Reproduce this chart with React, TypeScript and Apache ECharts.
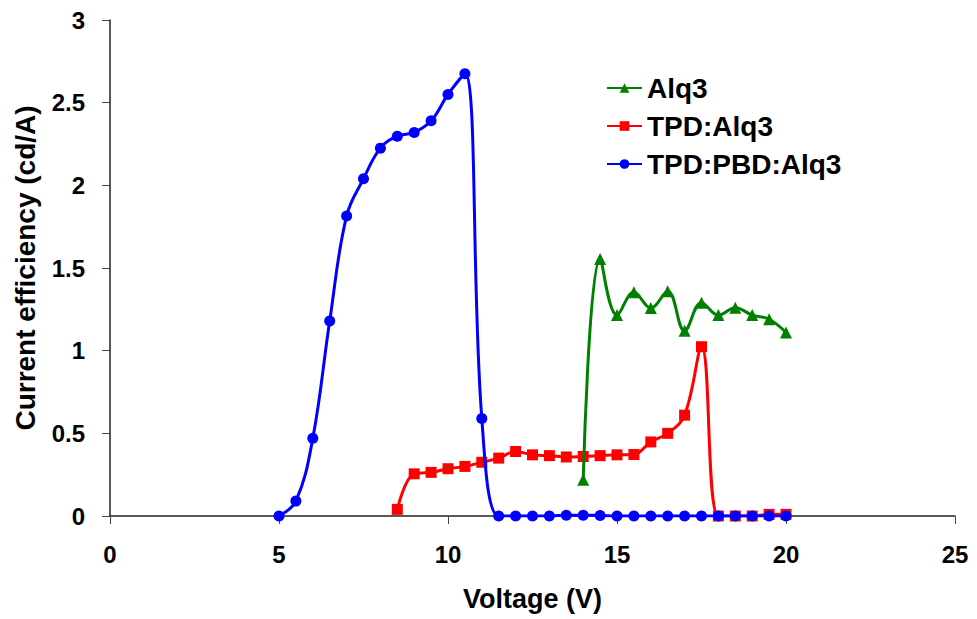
import React, { useEffect, useRef } from "react";
import * as echarts from "echarts";

const alq3V = [14, 14.5, 15, 15.5, 16, 16.5, 17, 17.5, 18, 18.5, 19, 19.5, 20];
const alq3E = [0.22, 1.555, 1.215, 1.353, 1.258, 1.36, 1.12, 1.29, 1.215, 1.26, 1.215, 1.19, 1.11];

const tpdV = [8.5, 9, 9.5, 10, 10.5, 11, 11.5, 12, 12.5, 13, 13.5, 14, 14.5, 15, 15.5, 16, 16.5, 17, 17.5, 18, 18.5, 19, 19.5, 20];
const tpdE = [0.04, 0.255, 0.264, 0.286, 0.3, 0.325, 0.35, 0.39, 0.37, 0.365, 0.357, 0.36, 0.365, 0.37, 0.372, 0.448, 0.5, 0.61, 1.024, 0.0, 0.0, 0.0, 0.01, 0.01];

const pbdV = [5, 5.5, 6, 6.5, 7, 7.5, 8, 8.5, 9, 9.5, 10, 10.5, 11, 11.5, 12, 12.5, 13, 13.5, 14, 14.5, 15, 15.5, 16, 16.5, 17, 17.5, 18, 18.5, 19, 19.5, 20];
const pbdE = [0.0, 0.09, 0.47, 1.18, 1.815, 2.04, 2.225, 2.297, 2.32, 2.39, 2.55, 2.675, 0.59, 0.0, 0.0, 0.0, 0.0, 0.005, 0.005, 0.003, 0.0, 0.0, 0.0, 0.0, 0.0, 0.0, 0.0, 0.0, 0.0, 0.0, 0.0];

const seriesNames = ["Alq3", "TPD:Alq3", "TPD:PBD:Alq3"];
const xTicks = [0, 5, 10, 15, 20, 25];
const yTicks = [0, 0.5, 1, 1.5, 2, 2.5, 3];

const FONT = "'Liberation Sans', Arial, sans-serif";

function zip(xs: number[], ys: number[]) {
  return xs.map((x, i) => [x, ys[i]]);
}

export default function App() {
  const ref = useRef<HTMLDivElement>(null);
  useEffect(() => {
    if (!ref.current) return;
    const chart = echarts.init(ref.current, null, { renderer: "svg" });
    const axisLine = { show: true, lineStyle: { color: "#222", width: 1.5 } };
    const tick = { show: true, inside: false, length: 8, lineStyle: { color: "#444", width: 1 } };
    const label = { fontFamily: FONT, fontWeight: "bold", fontSize: 24, color: "#000" };
    chart.setOption({
      animation: false,
      backgroundColor: "#fff",
      grid: { left: 110, right: 22, top: 20, bottom: 103 },
      legend: {
        orient: "vertical",
        left: 601,
        top: 69,
        itemGap: 10,
        itemWidth: 35,
        itemHeight: 12,
        data: seriesNames,
        textStyle: { fontFamily: FONT, fontWeight: "bold", fontSize: 28, color: "#000", lineHeight: 28 },
      },
      xAxis: {
        type: "value",
        min: xTicks[0],
        max: xTicks[xTicks.length - 1],
        interval: 5,
        name: "Voltage (V)",
        nameLocation: "middle",
        nameGap: 69,
        nameTextStyle: { fontFamily: FONT, fontWeight: "bold", fontSize: 27, color: "#000" },
        axisLine,
        axisTick: tick,
        axisLabel: { ...label, margin: 26 },
        splitLine: { show: false },
      },
      yAxis: {
        type: "value",
        min: yTicks[0],
        max: yTicks[yTicks.length - 1],
        interval: 0.5,
        name: "Current efficiency (cd/A)",
        nameLocation: "middle",
        nameGap: 71,
        nameTextStyle: { fontFamily: FONT, fontWeight: "bold", fontSize: 28, color: "#000" },
        axisLine,
        axisTick: tick,
        axisLabel: { ...label, margin: 25 },
        splitLine: { show: false },
      },
      series: [
        {
          name: seriesNames[1],
          type: "line",
          data: zip(tpdV, tpdE),
          smooth: 0.4,
          symbol: "rect",
          symbolSize: 11,
          lineStyle: { color: "#ff0000", width: 3 },
          itemStyle: { color: "#ff0000" },
          z: 2,
        },
        {
          name: seriesNames[0],
          type: "line",
          data: zip(alq3V, alq3E),
          smooth: 0.4,
          symbol: "triangle",
          symbolSize: 12,
          lineStyle: { color: "#008000", width: 3 },
          itemStyle: { color: "#008000" },
          z: 3,
        },
        {
          name: seriesNames[2],
          type: "line",
          data: zip(pbdV, pbdE),
          smooth: 0.4,
          symbol: "circle",
          symbolSize: 11,
          lineStyle: { color: "#0000ff", width: 3 },
          itemStyle: { color: "#0000ff" },
          z: 4,
        },
      ],
    });
    return () => chart.dispose();
  }, []);
  return (
    <div
      ref={ref}
      style={{ position: "fixed", left: 0, top: 0, width: 977, height: 619 }}
    />
  );
}
